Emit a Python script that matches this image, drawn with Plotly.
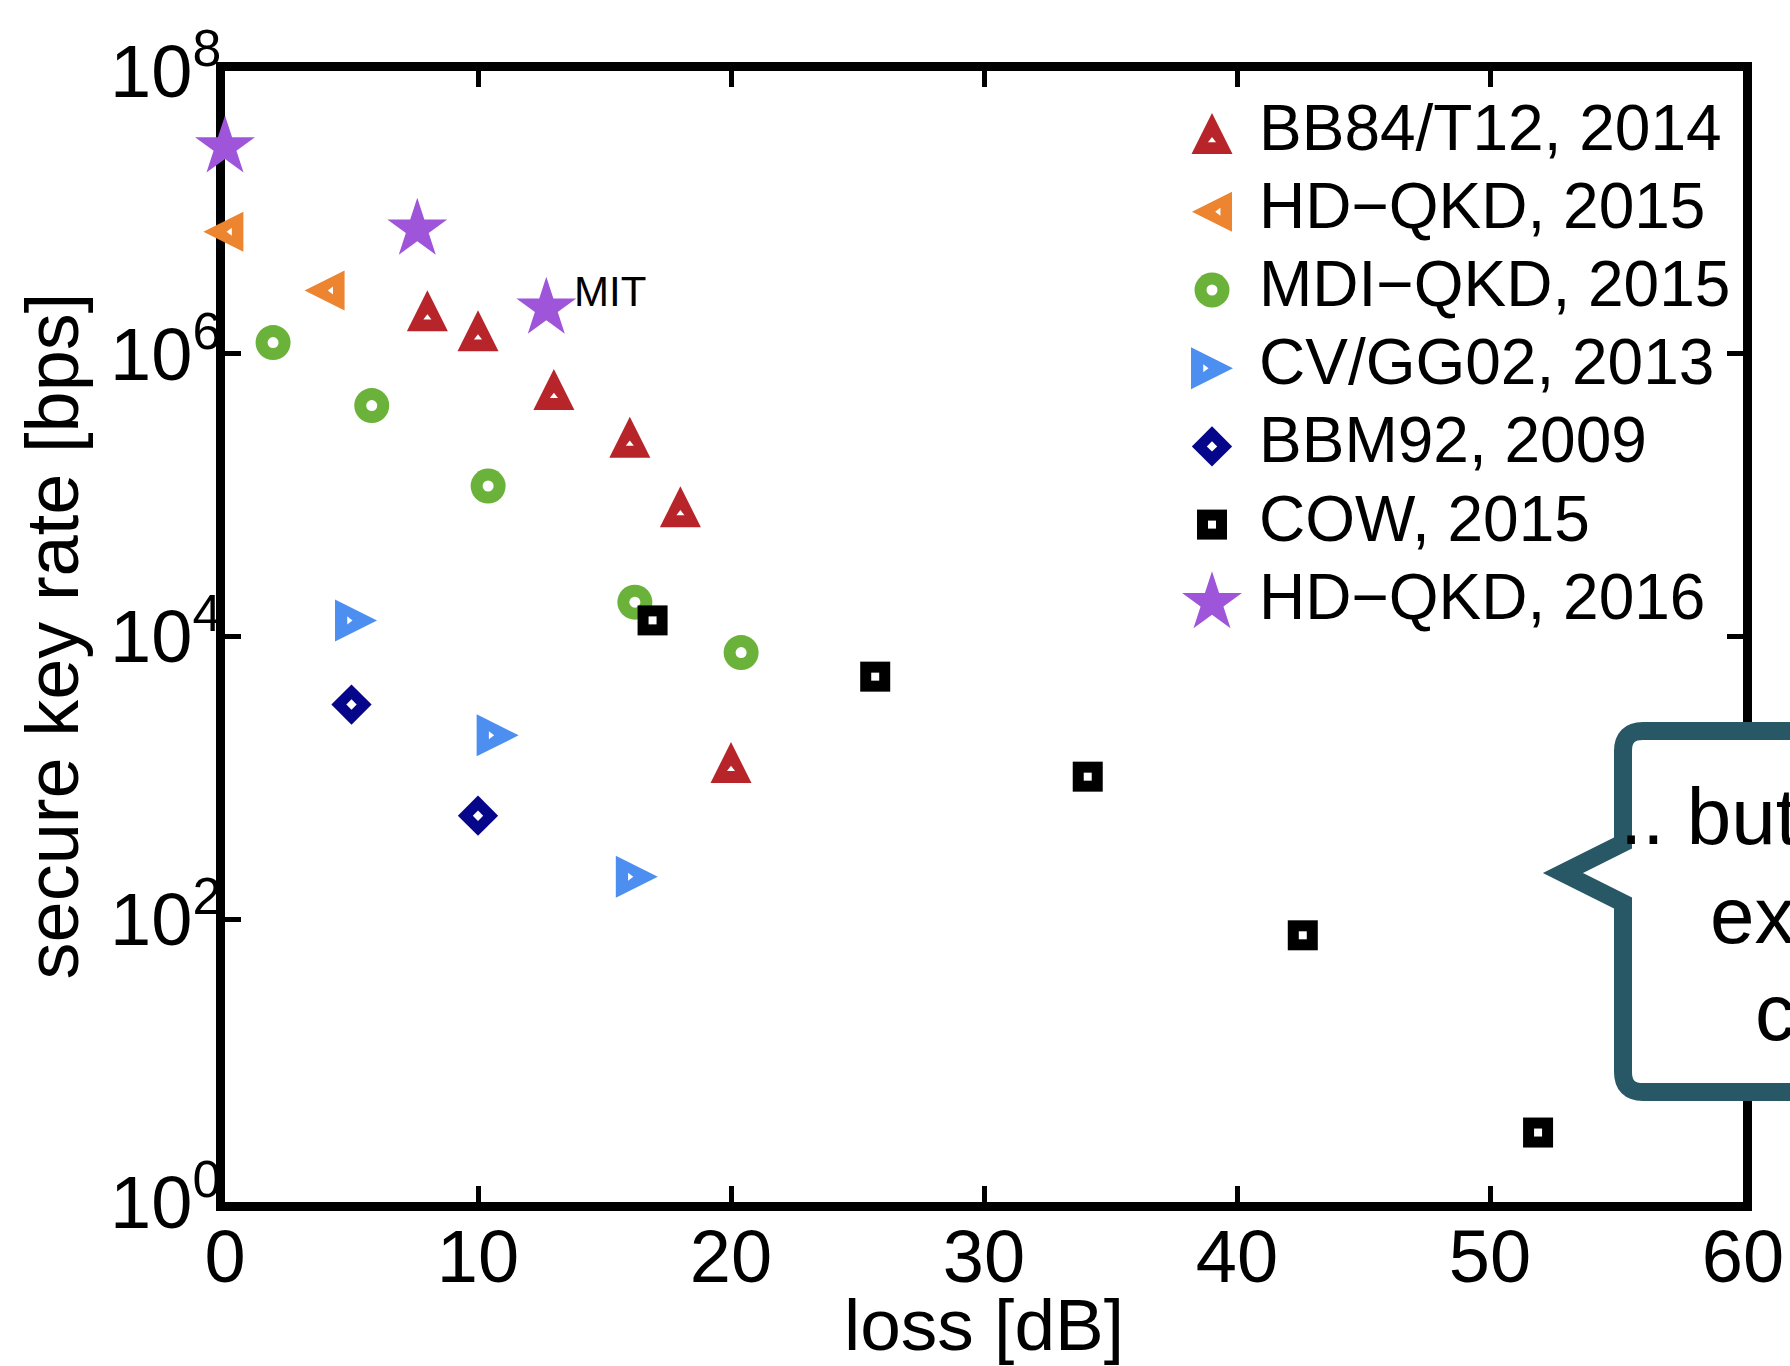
import plotly.graph_objects as go

# ---------------- data ----------------
series_names = ["BB84/T12, 2014", "HD\u2212QKD, 2015", "MDI\u2212QKD, 2015",
                "CV/GG02, 2013", "BBM92, 2009", "COW, 2015", "HD\u2212QKD, 2016"]

bb84_x = [8, 10, 13, 16, 18, 20]
bb84_y = [1.8e6, 1.3e6, 5.0e5, 2.3e5, 7.4e4, 1.15e3]

hdqkd15_x = [0.2, 4.2]
hdqkd15_y = [7.3e6, 2.8e6]

mdi_x = [1.9, 5.8, 10.4, 16.2, 20.4]
mdi_y = [1.2e6, 4.3e5, 1.16e5, 1.75e4, 7.7e3]

cv_x = [4.9, 10.5, 16.0]
cv_y = [1.3e4, 2.0e3, 2.0e2]

bbm_x = [5.0, 10.0]
bbm_y = [3.3e3, 5.4e2]

cow_x = [16.9, 25.7, 34.1, 42.6, 51.9]
cow_y = [1.3e4, 5.2e3, 1.02e3, 77, 3.1]

hd16_x = [0.0, 7.6, 12.7]
hd16_y = [2.9e7, 7.6e6, 2.1e6]

x_ticks = [0, 10, 20, 30, 40, 50, 60]
y_ticks = [1, 1e2, 1e4, 1e6, 1e8]
y_ticktext = ["10<sup>0</sup>", "10<sup>2</sup>", "10<sup>4</sup>", "10<sup>6</sup>", "10<sup>8</sup>"]

x_title = "loss [dB]"
y_title = "secure key rate [bps]"
callout_lines = [".. but", "ex", "c"]
mit_label = "MIT"

# ---------------- styles ----------------
FONT = "Liberation Sans, Arial, Helvetica, sans-serif"
W, H = 1790, 1366
L, R, T, B = 225, 47, 71, 164
PW, PH = W - L - R, H - T - B


def px(xp):
    return (xp - L) / PW


def py(yp):
    return (T + PH - yp) / PH


# big = outer filled symbol, hole = small white centre symbol
# triangles use the arrow symbol rotated and stood-off so its centroid sits on the point
styles = [
    dict(symbol="arrow-down", angle=180, size=41, color="#B7242A",
         hole="triangle-up", hsize=7, tri=(0, 1)),
    dict(symbol="arrow-down", angle=90, size=40, color="#EC8430",
         hole="triangle-left", hsize=7, tri=(1, 0)),
    dict(symbol="circle", angle=0, size=35, color="#6AB23A",
         hole="circle", hsize=11, tri=None),
    dict(symbol="arrow-down", angle=-90, size=42, color="#4C8FF0",
         hole="triangle-right", hsize=7, tri=(-1, 0)),
    dict(symbol="diamond", angle=0, size=31, color="#06068A",
         hole="diamond", hsize=8, tri=None),
    dict(symbol="square", angle=0, size=30, color="#000000",
         hole="square", hsize=8, tri=None),
    dict(symbol="star", angle=0, size=45, color="#9E55DA",
         hole=None, hsize=0, tri=None),
]

data = [(bb84_x, bb84_y), (hdqkd15_x, hdqkd15_y), (mdi_x, mdi_y), (cv_x, cv_y),
        (bbm_x, bbm_y), (cow_x, cow_y), (hd16_x, hd16_y)]


def big_marker(st):
    m = dict(symbol=st["symbol"], size=st["size"], color=st["color"],
             angle=st["angle"], line=dict(width=0))
    if st["tri"] is not None:
        m["standoff"] = 2 * st["size"] / 3
    return m


def hole_marker(st):
    return dict(symbol=st["hole"], size=st["hsize"], color="white", line=dict(width=0))


fig = go.Figure()

for name, (xs, ys), st in zip(series_names, data, styles):
    fig.add_trace(go.Scatter(x=xs, y=ys, mode="markers", name=name, showlegend=False,
                             cliponaxis=False, marker=big_marker(st)))
    if st["hole"]:
        fig.add_trace(go.Scatter(x=xs, y=ys, mode="markers", showlegend=False,
                                 cliponaxis=False, hoverinfo="skip", marker=hole_marker(st)))

# manual legend (symbols on overlay axis, labels as annotations)
leg_sym_x = 1212
leg_txt_x = 1257
leg_y0 = 133.6
leg_dy = 78.2
annotations = []
for i, (name, st) in enumerate(zip(series_names, styles)):
    row = leg_y0 + i * leg_dy
    sx, sy = leg_sym_x, row
    if st["tri"] is not None:
        dx, dy = st["tri"]
        sx += dx * st["size"] / 6
        sy += dy * st["size"] / 6
    fig.add_trace(go.Scatter(x=[px(sx)], y=[py(sy)], xaxis="x2", yaxis="y2", mode="markers",
                             showlegend=False, cliponaxis=False, hoverinfo="skip",
                             marker=big_marker(st)))
    if st["hole"]:
        fig.add_trace(go.Scatter(x=[px(sx)], y=[py(sy)], xaxis="x2", yaxis="y2", mode="markers",
                                 showlegend=False, cliponaxis=False, hoverinfo="skip",
                                 marker=hole_marker(st)))
    annotations.append(dict(
        x=px(leg_txt_x), y=py(row - 6), xref="paper", yref="paper", text=name,
        showarrow=False, xanchor="left", yanchor="middle",
        font=dict(family=FONT, size=64, color="black"),
    ))

# axis titles
annotations.append(dict(
    x=0.5, y=py(1324), xref="paper", yref="paper", text=x_title, showarrow=False,
    xanchor="center", yanchor="middle", font=dict(family=FONT, size=73, color="black"),
))
annotations.append(dict(
    x=px(52), y=0.5, xref="paper", yref="paper", text=y_title, showarrow=False,
    textangle=-90, xanchor="center", yanchor="middle",
    font=dict(family=FONT, size=74, color="black"),
))

# MIT label
annotations.append(dict(
    x=hd16_x[2], y=6.322, xref="x", yref="y", text=mit_label, showarrow=False,
    xanchor="left", yanchor="middle", xshift=26, yshift=17,
    font=dict(family=FONT, size=42, color="black"),
))

# callout text
for txt, (xl, ymid) in zip(callout_lines, [(1618, 816), (1708, 915), (1753, 1012)]):
    annotations.append(dict(
        x=px(xl), y=py(ymid), xref="paper", yref="paper", text=txt,
        showarrow=False, xanchor="left", yanchor="middle",
        font=dict(family=FONT, size=80, color="black"),
    ))

# callout bubble path (paper coordinates)
pts = {
    "A": (1623, 843), "B1": (1623, 751), "C1": (1623, 731), "D1": (1643, 731),
    "E": (1840, 731), "F": (1840, 1092), "G1": (1643, 1092), "C2": (1623, 1092),
    "B2": (1623, 1072), "H": (1623, 903), "TIP": (1563, 873),
}


def P(k):
    a, b = pts[k]
    return f"{px(a):.5f},{py(b):.5f}"


path = (f"M {P('A')} L {P('B1')} Q {P('C1')} {P('D1')} L {P('E')} L {P('F')} "
        f"L {P('G1')} Q {P('C2')} {P('B2')} L {P('H')} L {P('TIP')} Z")

shapes = [dict(type="path", path=path, xref="paper", yref="paper",
               line=dict(color="#285866", width=18), fillcolor="white",
               layer="above")]

axis_common = dict(
    showline=True, linewidth=9, linecolor="black", mirror="ticks",
    ticks="inside", ticklen=16, tickwidth=5, tickcolor="black",
    showgrid=False, zeroline=False, layer="below traces", automargin=False,
    tickfont=dict(family=FONT, size=74, color="black"),
)

fig.update_layout(
    template="none",
    width=W, height=H,
    margin=dict(l=L, r=R, t=T, b=B, pad=0, autoexpand=False),
    paper_bgcolor="white", plot_bgcolor="white",
    font=dict(family=FONT, color="black"),
    xaxis=dict(range=[0, 60], tickvals=x_ticks, ticktext=[str(v) for v in x_ticks],
               ticklabelstandoff=-18, **axis_common),
    yaxis=dict(type="log", range=[0, 8], tickvals=y_ticks, ticktext=y_ticktext,
               ticklabelstandoff=-20, **axis_common),
    xaxis2=dict(range=[0, 1], overlaying="x", anchor="y2", visible=False, fixedrange=True),
    yaxis2=dict(range=[0, 1], overlaying="y", anchor="x2", visible=False, fixedrange=True),
    showlegend=False,
    annotations=annotations,
    shapes=shapes,
)

fig.write_html("out.html",
               config={"displayModeBar": False},
               post_script="document.body.style.margin='0px';"
                           "document.body.style.padding='0px';"
                           "document.body.style.overflow='hidden';")
